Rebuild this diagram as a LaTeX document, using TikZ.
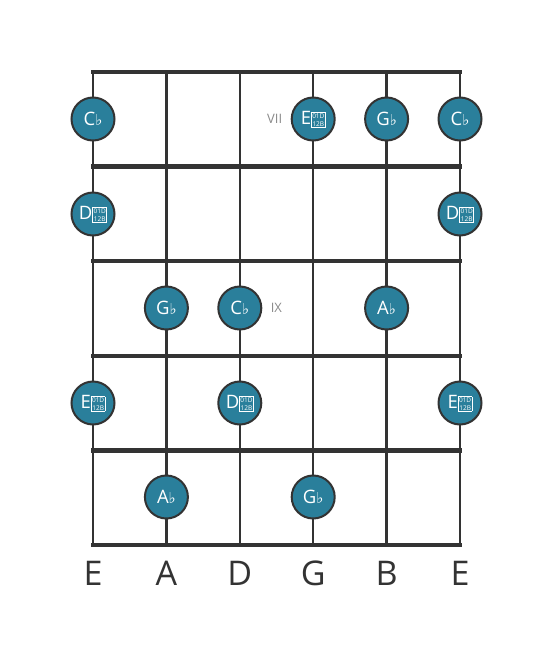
\documentclass[tikz,border=0pt]{standalone}
\usepackage{fontspec}
\setmainfont{Open Sans}
\newfontfamily\symfont{DejaVu Sans}
\usetikzlibrary{positioning}

\definecolor{dotblue}{HTML}{2A7F9B}
\definecolor{boardgray}{HTML}{333333}
\definecolor{degreegray}{HTML}{8A8A8A}

\newcommand{\fl}{{\symfont\fontsize{15}{15}\selectfont ♭}}
\newcommand{\dfl}{\raisebox{-2pt}{\setlength{\fboxsep}{0.6pt}\setlength{\fboxrule}{0.6pt}\fbox{\fontsize{6.5}{7}\selectfont\shortstack{01D\\12B}}}}

\begin{document}
\begin{tikzpicture}[x=1pt, y=-1pt,
  note/.style={circle, draw=boardgray, line width=2pt, fill=dotblue, minimum size=43pt, inner sep=0pt, text=white, font=\fontsize{18.5}{18.5}\selectfont},
  degree/.style={text=degreegray, font=\fontsize{13}{13}\selectfont},
  stringname/.style={text=boardgray, font=\fontsize{34}{34}\selectfont},
  fret/.style={draw=boardgray, line width=4.5pt},
  guitarstring/.style={draw=boardgray, line width=2.4pt}]
  \useasboundingbox (0,0) rectangle (553,656);

  % strings and frets
  \foreach \x in {93,166.4,239.8,313.2,386.6,460}
    \draw [guitarstring] (\x,72) -- (\x,545);
  \foreach \y in {72,166.6,261.2,355.8,450.4,545}
    \draw [fret] (91,\y) -- (462,\y);

  % fret 1
  \node [note] (s1f1) at (93,119) {C\fl};
  \node [note] (s4f1) at (313.2,119) {E\dfl};
  \node [note] (s5f1) at (386.6,119) {G\fl};
  \node [note] (s6f1) at (460,119) {C\fl};
  \node [degree, left=5pt of s4f1] (vii) {VII};

  % fret 2
  \node [note] (s1f2) at (93,214) {D\dfl};
  \node [note] (s6f2) at (460,214) {D\dfl};

  % fret 3
  \node [note] (s2f3) at (166.4,308) {G\fl};
  \node [note] (s3f3) at (239.8,308) {C\fl};
  \node [note] (s5f3) at (386.6,308) {A\fl};
  \node [degree, right=5pt of s3f3] (ix) {IX};

  % fret 4
  \node [note] (s1f4) at (93,403) {E\dfl};
  \node [note] (s3f4) at (239.8,403) {D\dfl};
  \node [note] (s6f4) at (460,403) {E\dfl};

  % fret 5
  \node [note] (s2f5) at (166.4,497) {A\fl};
  \node [note] (s4f5) at (313.2,497) {G\fl};

  % string names
  \node [stringname] (nameE) at (93,573) {E};
  \node [stringname] (nameA) at (166.4,573) {A};
  \node [stringname] (nameD) at (239.8,573) {D};
  \node [stringname] (nameG) at (313.2,573) {G};
  \node [stringname] (nameB) at (386.6,573) {B};
  \node [stringname] (namee) at (460,573) {E};
\end{tikzpicture}
\end{document}
